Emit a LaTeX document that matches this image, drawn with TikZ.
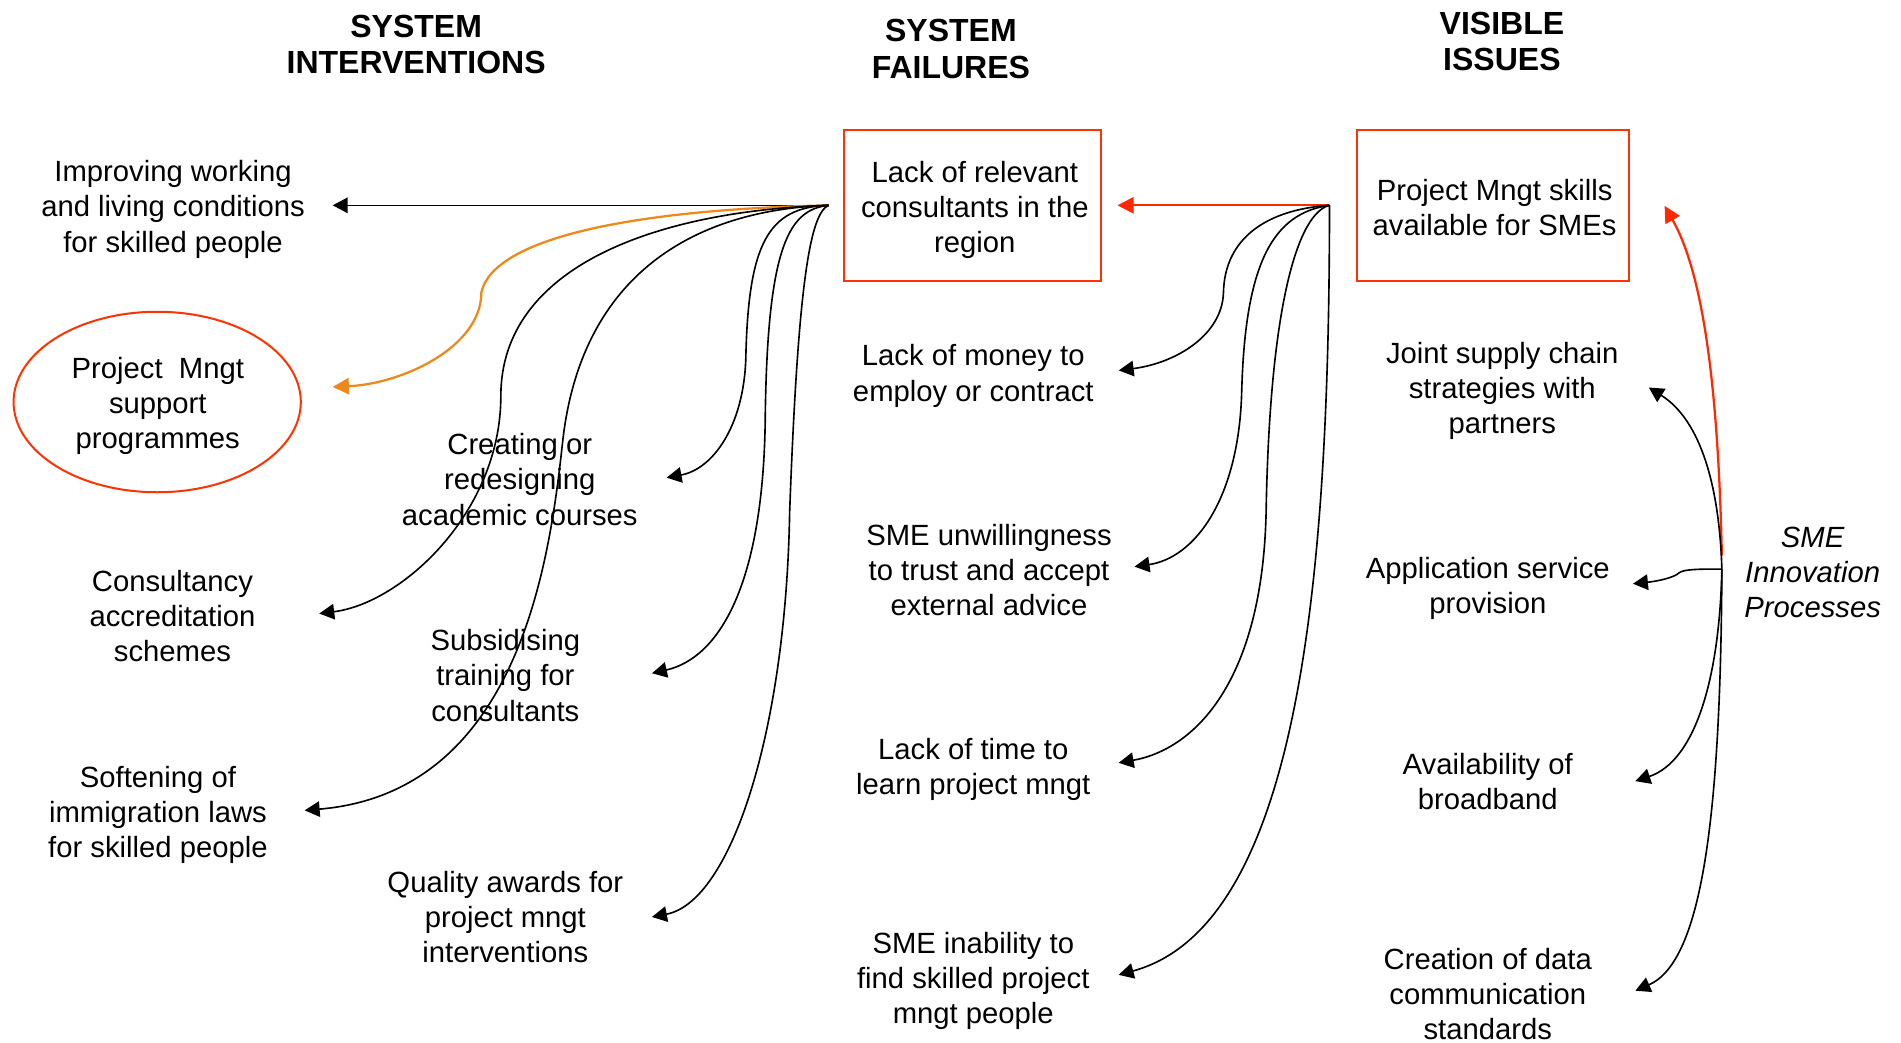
\documentclass[tikz,border=0pt]{standalone}
\usepackage{fontspec}
\setmainfont{Liberation Sans}
\usetikzlibrary{arrows.meta,shapes.geometric}
\definecolor{boxred}{RGB}{255,51,0}
\definecolor{arrred}{RGB}{255,40,0}
\definecolor{arrorange}{RGB}{240,135,25}
\tikzset{
  lbl/.style={align=center, font=\fontsize{11.7}{14.04}\selectfont, inner sep=0pt},
  ttl/.style={align=center, font=\fontsize{12.8}{14.5}\selectfont\bfseries, inner sep=0pt},
  redbox/.style={draw=boxred, line width=0.8pt, minimum height=60.44pt, inner sep=0pt},
  conn/.style={draw=black, line width=0.65pt, -{Triangle[length=6pt,width=6.2pt]}},
  redconn/.style={draw=arrred, line width=0.9pt, -{Triangle[length=6.5pt,width=6.5pt]}},
  orconn/.style={draw=arrorange, line width=0.9pt, -{Triangle[length=6.5pt,width=6.5pt]}},
}
\begin{document}
\begin{tikzpicture}[x=0.48744pt,y=-0.48744pt]
\useasboundingbox (0,0) rectangle (1560,855.1);
% titles
\node[ttl] (t1) at (341.5,36.8) {SYSTEM\\INTERVENTIONS};
\node[ttl] (t2) at (780.3,40.3) {SYSTEM\\FAILURES};
\node[ttl] (t3) at (1232.5,33.8) {VISIBLE\\ISSUES};
% boxes
\node[redbox, minimum width=102.85pt] (box1) at (798,168.5) {};
\node[lbl] (box1t) at (800,172.2) {Lack of relevant\\consultants in the\\region};
\node[redbox, minimum width=108.94pt] (box2) at (1225.4,168.4) {};
\node[lbl] (box2t) at (1226.5,170.2) {Project Mngt skills\\available for SMEs};
\node[ellipse, draw=boxred, line width=0.8pt, minimum width=114.9pt, minimum height=72.2pt, inner sep=0pt] (ell) at (129,329.9) {};
\node[lbl] (ellt) at (129.5,333.3) {Project\ \ Mngt\\support\\programmes};
% left labels
\node[lbl] (improving) at (142,171.8) {Improving working\\and living conditions\\for skilled people};
\node[lbl] (creating) at (426.5,393.5) {Creating or\\redesigning\\academic courses};
\node[lbl] (consult) at (141.5,505.6) {Consultancy\\accreditation\\schemes};
\node[lbl] (subsid) at (414.7,554.3) {Subsidising\\training for\\consultants};
\node[lbl] (soft) at (129.6,668.5) {Softening of\\immigration laws\\for skilled people};
\node[lbl] (quality) at (414.7,752.6) {Quality awards for\\project mngt\\interventions};
% middle labels
\node[lbl] (money) at (798.7,308.5) {Lack of money to\\employ or contract};
\node[lbl] (unwill) at (811.6,467.9) {SME unwillingness\\to trust and accept\\external advice};
\node[lbl] (time) at (798.7,631.2) {Lack of time to\\learn project mngt};
\node[lbl] (inab) at (798.7,805.2) {SME inability to\\find skilled project\\mngt people};
% right labels
\node[lbl] (joint) at (1232.8,320.9) {Joint supply chain\\strategies with\\partners};
\node[lbl] (appl) at (1220.9,483.2) {Application service\\provision};
\node[lbl] (avail) at (1220.9,641.7) {Availability of\\broadband};
\node[lbl] (creat) at (1220.9,815.6) {Creation of data\\communication\\standards};
\node[lbl, font=\fontsize{11.7}{14}\selectfont\itshape] (sme) at (1487.5,470) {SME\\Innovation\\Processes};
% hub points and arrow tips
\coordinate (s1) at (680,168.5);
\coordinate (s2) at (1091,168.5);
\coordinate (s3) at (1413,467);
\coordinate (s3r) at (1413,456);
\coordinate (tImp) at (273,168.5);
\coordinate (tEll) at (273,317.5);
\coordinate (tCons) at (262,503.5);
\coordinate (tSoft) at (250,665);
\coordinate (tCrea) at (547,392);
\coordinate (tSub) at (535,552.5);
\coordinate (tQual) at (535,752.5);
\coordinate (tBox1) at (917,168.5);
\coordinate (tMon) at (918,304);
\coordinate (tUnw) at (931,465);
\coordinate (tTime) at (918,626);
\coordinate (tInab) at (918,800);
\coordinate (tBox2) at (1366,169);
\coordinate (tJoint) at (1353,318);
\coordinate (tAppl) at (1340,479);
\coordinate (tAvail) at (1342,641);
\coordinate (tCreat) at (1342,813);
% left fan
\draw[conn] (s1) -- (tImp);
\draw[orconn] (s1) .. controls (520,172) and (405,195) .. (395,240) .. controls (395,285) and (330,315) .. (tEll);
\draw[conn] (s1) .. controls (540,173) and (411,218) .. (411,325) .. controls (411,420) and (330,495) .. (tCons);
\draw[conn] (s1) .. controls (570,172) and (478,225) .. (462,360) .. controls (452,450) and (430,650) .. (tSoft);
\draw[conn] (s1) .. controls (630,170) and (614,200) .. (612,295) .. controls (610,350) and (585,385) .. (tCrea);
\draw[conn] (s1) .. controls (648,172) and (630,200) .. (628,340) .. controls (627,480) and (590,540) .. (tSub);
\draw[conn] (s1) .. controls (665,175) and (655,230) .. (648,420) .. controls (645,600) and (600,740) .. (tQual);
% middle fan
\draw[redconn] (s2) -- (tBox1);
\draw[conn] (s2) .. controls (1040,172) and (1005,195) .. (1004,240) .. controls (1003,275) and (965,298) .. (tMon);
\draw[conn] (s2) .. controls (1045,175) and (1022,215) .. (1019,320) .. controls (1017,410) and (980,458) .. (tUnw);
\draw[conn] (s2) .. controls (1065,175) and (1042,250) .. (1039,420) .. controls (1036,560) and (980,615) .. (tTime);
\draw[conn] (s2) .. controls (1091,480) and (1065,760) .. (tInab);
% right fan
\draw[redconn] (s3r) .. controls (1410,320) and (1398,225) .. (tBox2);
\draw[conn] (s3) .. controls (1411,400) and (1396,345) .. (tJoint);
\draw[conn] (s3) .. controls (1395,467) and (1382,467) .. (1378,470) .. controls (1374,474) and (1360,477) .. (tAppl);
\draw[conn] (s3) .. controls (1411,560) and (1390,625) .. (tAvail);
\draw[conn] (s3) .. controls (1412,680) and (1395,790) .. (tCreat);
\end{tikzpicture}
\end{document}
